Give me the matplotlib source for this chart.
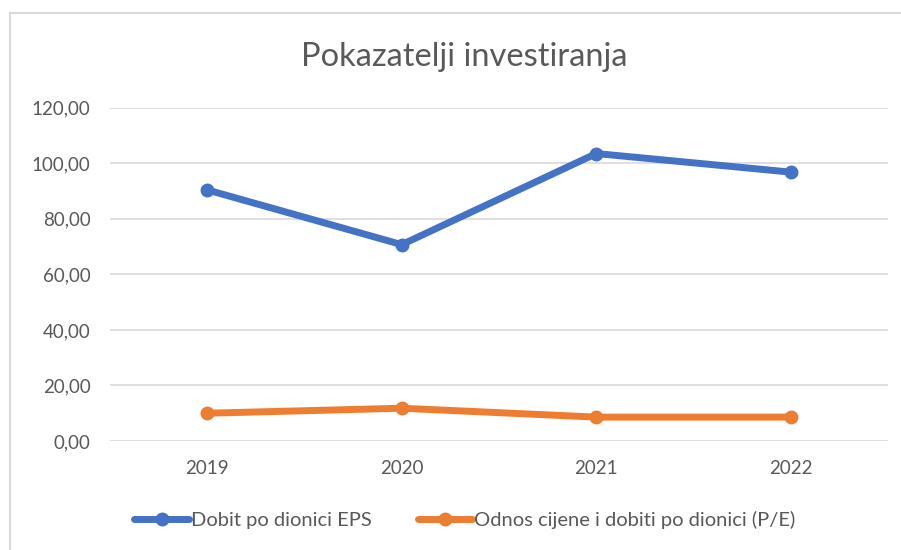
import numpy as np
import matplotlib
matplotlib.use('Agg')
import matplotlib.pyplot as plt
from matplotlib.lines import Line2D

# data
years = ['2019', '2020', '2021', '2022']
eps = [90.4, 70.7, 103.5, 96.8]
pe = [10.0, 11.8, 8.6, 8.6]
yticks = [0, 20, 40, 60, 80, 100, 120]

blue = '#4472C4'
orange = '#ED7D31'
grey_txt = '#595959'
grid_c = '#D9D9D9'

plt.rcParams['font.family'] = ['Lato', 'DejaVu Sans']

fig = plt.figure(figsize=(9.01, 5.5), dpi=100)
ax = fig.add_axes([110/901, 1 - 441/550, (888 - 110)/901, (441 - 107.7)/550])

x = np.arange(len(years))
ax.plot(x, eps, color=blue, lw=5, marker='o', markersize=9,
        solid_capstyle='round', label='Dobit po dionici EPS', zorder=3)
ax.plot(x, pe, color=orange, lw=5, marker='o', markersize=9,
        solid_capstyle='round', label='Odnos cijene i dobiti po dionici (P/E)', zorder=3)

ax.set_xlim(-0.5, len(years) - 0.5)
ax.set_ylim(0, 120)
ax.set_yticks(yticks)
ax.set_yticklabels([f'{v:.2f}'.replace('.', ',') for v in yticks])
ax.set_xticks(x)
ax.set_xticklabels(years)
ax.tick_params(axis='both', length=0, labelsize=13.5, colors=grey_txt)
ax.tick_params(axis='y', pad=14)
ax.tick_params(axis='x', pad=14)
ax.grid(axis='y', color=grid_c, lw=1.2)
ax.set_axisbelow(True)
for s in ax.spines.values():
    s.set_visible(False)

fig.text(464/901, 1 - 57/550, 'Pokazatelji investiranja', ha='center', va='center',
         fontsize=23.5, color=grey_txt)

fig.legend(loc='center', bbox_to_anchor=(465/901, 1 - 520/550), ncol=2, frameon=False,
           fontsize=14.5, labelcolor=grey_txt, handlelength=2.7, handletextpad=0.1,
           columnspacing=2.3)

# chart area border (only top and left visible in the crop)
fig.add_artist(Line2D([10/901, 10/901], [0, 1 - 13/550], color=grid_c, lw=1.5))
fig.add_artist(Line2D([10/901, 1], [1 - 13/550, 1 - 13/550], color=grid_c, lw=1.5))

plt.savefig('out.png', dpi=100)
